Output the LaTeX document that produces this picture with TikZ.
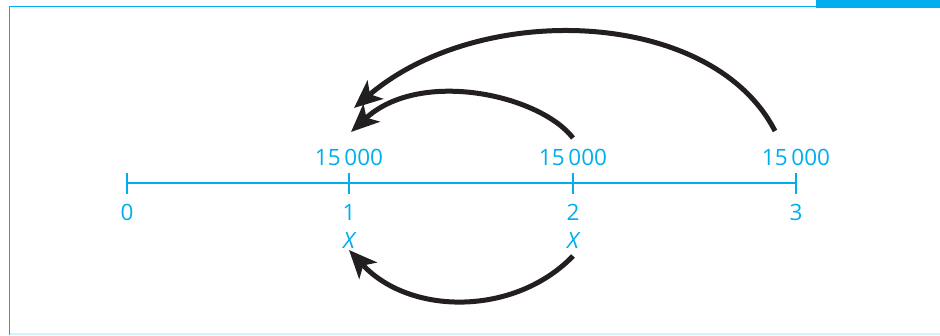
\documentclass[tikz,border=0pt]{standalone}
\usepackage{fontspec}
\setmainfont{Open Sans}
\usetikzlibrary{arrows.meta}
\definecolor{cy}{RGB}{0,174,239}
\definecolor{cylight}{RGB}{215,242,252}
\definecolor{ink}{RGB}{35,31,32}
\begin{document}
\begin{tikzpicture}[x=1pt,y=-1pt,
  axis/.style={draw=cy,line width=2.6pt},
  tickmark/.style={draw=cy,line width=2.6pt},
  lbl/.style={text=cy,font=\fontsize{22.5}{25}\selectfont,inner sep=0pt},
  bigarrow/.style={draw=ink,line width=5pt,-{Stealth[length=28pt,width=24pt,inset=7pt]}}]
\useasboundingbox (0,0) rectangle (940,335);
% frame
\fill[cy] (816,0) rectangle (940,7.5);
\draw[cy,line width=1.5pt] (816,6.5) -- (9.5,6.5) -- (9.5,335);
\draw[cylight,line width=1.5pt] (9.5,334) -- (940,334);
% axis
\coordinate (t0) at (127,183);
\coordinate (t1) at (349,183);
\coordinate (t2) at (573,183);
\coordinate (t3) at (796,183);
\draw[axis] (t0) -- (t3);
\foreach \i in {0,1,2,3} \draw[tickmark] ([yshift=-10.5pt]t\i) -- ([yshift=10.5pt]t\i);
\foreach \i in {0,1,2,3} \node[lbl] (n\i) at ([yshift=-29pt]t\i) {\i};
\node[lbl] (x1) at ([yshift=-57pt]t1) {\itshape X};
\node[lbl] (x2) at ([yshift=-57pt]t2) {\itshape X};
\node[lbl] (v1) at ([yshift=26pt]t1) {15\,000};
\node[lbl] (v2) at ([yshift=26pt]t2) {15\,000};
\node[lbl] (v3) at ([yshift=26pt]t3) {15\,000};
% arrow ends
\coordinate (bs) at (573,256);
\coordinate (be) at (349,250);
\coordinate (as) at (573,138);
\coordinate (ae) at (351,132);
\coordinate (cs) at (775,131);
\coordinate (ce) at (354,108);
\draw[bigarrow] (bs) .. controls (515,316) and (410,316) .. (be);
\draw[bigarrow] (as) .. controls (540,95) and (420,68) .. (ae);
\draw[bigarrow] (cs) .. controls (712,8) and (480,0) .. (ce);
\end{tikzpicture}
\end{document}
